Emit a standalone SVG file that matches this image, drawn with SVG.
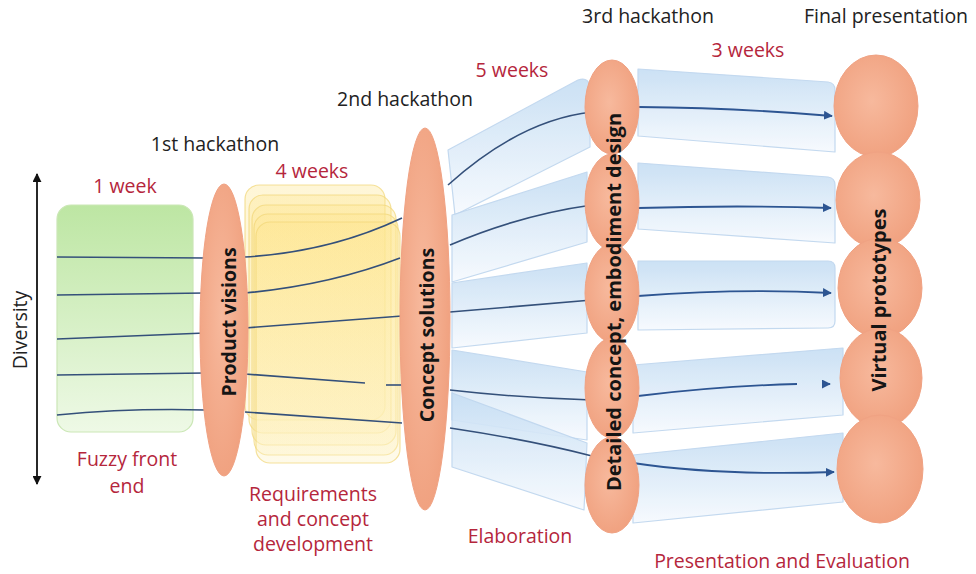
<svg xmlns="http://www.w3.org/2000/svg" width="976" height="574" viewBox="0 0 976 574">
<defs>
<linearGradient id="gGreen" x1="0" y1="0" x2="0" y2="1"><stop offset="0" stop-color="#bde6a3"/><stop offset="1" stop-color="#eef9e6"/></linearGradient>
<linearGradient id="gBlue" x1="0" y1="0" x2="0" y2="1"><stop offset="0" stop-color="#c6def4"/><stop offset="1" stop-color="#f6fafe"/></linearGradient>
<linearGradient id="gYel" x1="0" y1="0" x2="0" y2="1"><stop offset="0" stop-color="#fde58c"/><stop offset="1" stop-color="#fdf1c0"/></linearGradient>
<radialGradient id="gOrange" cx="0.45" cy="0.45" r="0.6"><stop offset="0" stop-color="#f7b99d"/><stop offset="1" stop-color="#f0a07e"/></radialGradient>
<marker id="arr" viewBox="0 0 10 10" refX="9" refY="5" markerWidth="5" markerHeight="5" orient="auto" markerUnits="strokeWidth"><path d="M0,0 L10,5 L0,10 Z" fill="#2d5592"/></marker>
<marker id="blk" viewBox="0 0 10 10" refX="9" refY="5" markerWidth="5" markerHeight="5" orient="auto-start-reverse" markerUnits="strokeWidth"><path d="M0,0 L10,5 L0,10 Z" fill="#111"/></marker>
<style>
.t{font-family:"Open Sans","Liberation Sans",sans-serif;font-size:19.5px;fill:#222}
.r{font-family:"Open Sans","Liberation Sans",sans-serif;font-size:19.5px;fill:#b5263c;text-anchor:middle}
.b{font-family:"Open Sans","Liberation Sans",sans-serif;font-size:19.5px;font-weight:bold;fill:#151515;text-anchor:middle;dominant-baseline:central}
.ell{fill:url(#gOrange);stroke:#f0a283;stroke-width:1}
.band{fill:url(#gBlue);stroke:#bdd5ee;stroke-width:1.2;stroke-linejoin:round;opacity:0.9}
.yel{fill:url(#gYel);fill-opacity:0.35;stroke:#f1d676;stroke-opacity:0.7;stroke-width:1.2}
.ln{fill:none;stroke:#34507a;stroke-width:1.6}
.la{fill:none;stroke:#2d5592;stroke-width:1.8;marker-end:url(#arr)}
</style>
</defs>
<rect width="976" height="574" fill="#fff"/>

<g id="diversity">
<line x1="37" y1="174" x2="37" y2="484" stroke="#111" stroke-width="1.8" marker-start="url(#blk)" marker-end="url(#blk)"/>
<text class="t" text-anchor="middle" dominant-baseline="central" transform="translate(19,330) rotate(-90)">Diversity</text>
</g>

<g id="fuzzy-front-end">
<rect x="57" y="205" width="136" height="227" rx="14" fill="url(#gGreen)" stroke="#cbe7b6" stroke-width="1.2"/>
<text class="r" x="125" y="193">1 week</text>
<text class="r" x="127" y="466">Fuzzy front</text>
<text class="r" x="127" y="493">end</text>
</g>

<g id="requirements">
<rect class="yel" x="245" y="185" width="140" height="235" rx="14"/>
<rect class="yel" x="249" y="195" width="142" height="238" rx="14"/>
<rect class="yel" x="252" y="205" width="144" height="240" rx="14"/>
<rect class="yel" x="254" y="214" width="144" height="241" rx="14"/>
<rect class="yel" x="256" y="222" width="144" height="241" rx="14"/>
<text class="r" x="312" y="178">4 weeks</text>
<text class="r" x="313" y="501">Requirements</text>
<text class="r" x="313" y="526">and concept</text>
<text class="r" x="313" y="551">development</text>
</g>

<g id="bands">
<path class="band" d="M448,150 L578,80 Q590,76 590,90 L590,147 L455,215 Z"/>
<path class="band" d="M452,215 L587,172 L587,242 L452,282 Z"/>
<path class="band" d="M452,283 L587,263 L587,333 L452,348 Z"/>
<path class="band" d="M452,350 L587,372 L587,440 L452,420 Z"/>
<path class="band" d="M452,393 L587,443 L584,510 L452,467 Z"/>
<path class="band" d="M638,69 L828,82 Q835,83 835,90 L835,152 L638,136 Z"/>
<path class="band" d="M638,163 L828,177 Q835,178 835,185 L835,243 L638,229 Z"/>
<path class="band" d="M638,261 L828,261 Q835,261 835,268 L835,321 Q835,328 828,328 L638,330 Z"/>
<path class="band" d="M633,365 L843,348 L843,415 L633,433 Z"/>
<path class="band" d="M633,455 L843,433 L843,502 L633,523 Z"/>
</g>

<g id="connectors">
<path class="ln" d="M57,257 L205,258"/>
<path class="ln" d="M57,295 L205,293"/>
<path class="ln" d="M57,339 L205,333"/>
<path class="ln" d="M57,375 L205,373"/>
<path class="ln" d="M57,415 Q130,408 205,410"/>
<path class="ln" d="M245,257 Q330,252 402,218"/>
<path class="ln" d="M245,293 Q330,285 400,258"/>
<path class="ln" d="M245,328 L402,316"/>
<path class="ln" d="M245,374 L365,383"/>
<path class="ln" d="M386,385 L402,385"/>
<path class="ln" d="M245,412 L402,423"/>
<path class="ln" d="M448,185 Q520,120 592,112"/>
<path class="ln" d="M450,245 Q520,215 592,205"/>
<path class="ln" d="M450,312 L592,300"/>
<path class="ln" d="M450,390 Q520,398 592,400"/>
<path class="ln" d="M450,428 Q530,440 592,456"/>
<path class="la" d="M638,107 Q740,108 832,116"/>
<path class="la" d="M638,208 Q740,205 831,208"/>
<path class="la" d="M638,296 Q740,288 831,293"/>
<path class="ln" d="M638,396 Q720,386 797,384" style="stroke:#2d5592;stroke-width:1.8"/>
<path class="la" d="M826,384 L830,384"/>
<path class="la" d="M633,463 Q720,476 834,472"/>
</g>

<g id="product-visions">
<ellipse class="ell" cx="224" cy="330" rx="24" ry="146"/>
<text class="b" transform="translate(228,322) rotate(-90)">Product visions</text>
<text class="t" x="215" y="151" text-anchor="middle">1st hackathon</text>
</g>

<g id="concept-solutions">
<ellipse class="ell" cx="425" cy="319" rx="25" ry="191"/>
<text class="b" transform="translate(426,335) rotate(-90)">Concept solutions</text>
<text class="t" x="405" y="106" text-anchor="middle">2nd hackathon</text>
<text class="r" x="512" y="77">5 weeks</text>
<text class="r" x="520" y="543">Elaboration</text>
</g>

<g id="detailed-concept">
<ellipse class="ell" cx="612" cy="107" rx="27" ry="47"/>
<ellipse class="ell" cx="612" cy="202" rx="27" ry="48"/>
<ellipse class="ell" cx="612" cy="293" rx="27" ry="49"/>
<ellipse class="ell" cx="612" cy="388" rx="27" ry="50"/>
<ellipse class="ell" cx="612" cy="485" rx="27" ry="48"/>
<text class="b" style="font-size:20px" transform="translate(613,302) rotate(-90)">Detailed concept, embodiment design</text>
<text class="t" x="648" y="23" text-anchor="middle">3rd hackathon</text>
<text class="r" x="748" y="57">3 weeks</text>
</g>

<g id="virtual-prototypes">
<ellipse class="ell" cx="876" cy="106" rx="42" ry="51"/>
<ellipse class="ell" cx="878" cy="200" rx="42" ry="48"/>
<ellipse class="ell" cx="880" cy="288" rx="42" ry="50"/>
<ellipse class="ell" cx="881" cy="378" rx="41" ry="50"/>
<ellipse class="ell" cx="880" cy="469" rx="43" ry="54"/>
<text class="b" style="font-size:20px" transform="translate(878,300) rotate(-90)">Virtual prototypes</text>
<text class="t" x="886" y="23" text-anchor="middle">Final presentation</text>
<text class="r" x="782" y="568">Presentation and Evaluation</text>
</g>
</svg>
